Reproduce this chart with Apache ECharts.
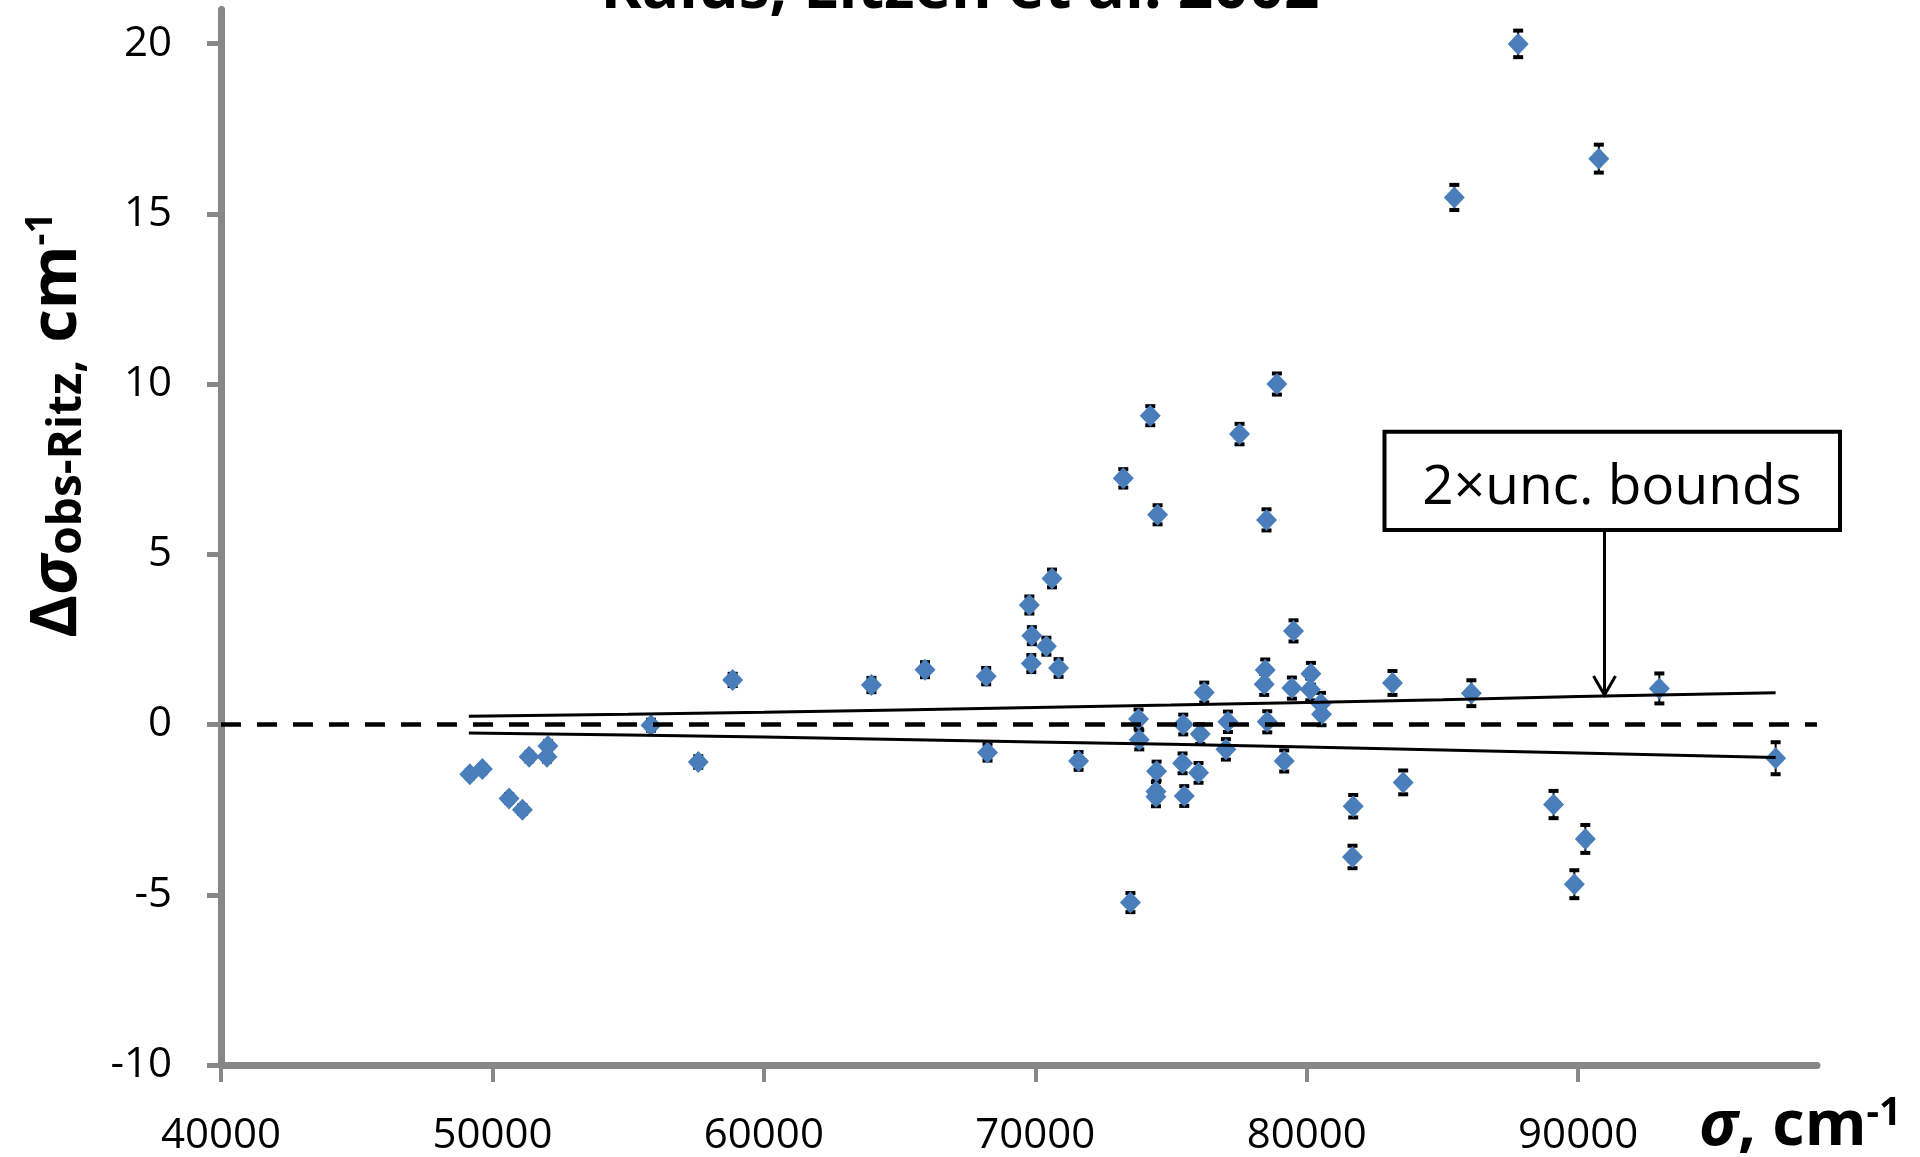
<!DOCTYPE html>
<html><head><meta charset="utf-8">
<script src="https://cdn.jsdelivr.net/npm/echarts@6/dist/echarts.min.js"></script>
<style>html,body{margin:0;padding:0;background:#fff}#c{width:1920px;height:1157px}</style>
</head><body><div id="c"></div>
<script>
// ---- data ----
const sigma = [49168,49628,50612,51105,51352,52011,52044,55842,57584,58851,
  63963,65937,68191,68240,69782,69873,69853,70409,70615,70858,
  71595,73242,73505,73805,73831,74236,74469,74445,74445,74506,
  75451,75426,75488,76077,76015,76225,77023,77097,77525,78471,
  78434,78519,78545,78902,79171,79514,79455,80155,80129,80523,
  80545,81713,81687,83160,83554,85438,86066,87790,89094,89860,
  90265,90762,92991,97276];
const delta = [-1.46,-1.31,-2.17,-2.50,-0.95,-0.95,-0.63,-0.02,-1.10,1.31,
  1.16,1.61,1.42,-0.82,3.51,2.61,1.79,2.30,4.29,1.66,
  -1.07,7.23,-5.23,0.16,-0.45,9.07,-1.37,-1.97,-2.12,6.16,
  0.00,-1.14,-2.10,-0.28,-1.42,0.94,-0.73,0.08,8.53,1.60,
  1.18,6.01,0.08,10.00,-1.07,2.75,1.07,1.49,1.03,0.61,
  0.30,-2.40,-3.89,1.22,-1.70,15.48,0.92,19.99,-2.35,-4.69,
  -3.36,16.62,1.06,-0.99];
const unc = [0.12,0.12,0.13,0.13,0.13,0.14,0.14,0.16,0.17,0.18,
  0.21,0.22,0.24,0.24,0.25,0.25,0.25,0.25,0.26,0.26,
  0.26,0.27,0.28,0.28,0.28,0.28,0.28,0.28,0.28,0.28,
  0.29,0.29,0.29,0.29,0.29,0.29,0.30,0.30,0.30,0.31,
  0.31,0.31,0.31,0.31,0.31,0.31,0.31,0.32,0.32,0.32,
  0.32,0.33,0.33,0.35,0.35,0.37,0.38,0.39,0.40,0.41,
  0.41,0.41,0.44,0.47];
const boundSigma = [49131,55000,60000,65000,70000,75000,80000,85000,90000,97276];
const boundUpper = [0.24,0.30,0.36,0.43,0.50,0.57,0.65,0.73,0.82,0.93];
const boundLower = [-0.25,-0.31,-0.37,-0.44,-0.51,-0.58,-0.66,-0.75,-0.84,-0.97];
const xTicks = [40000,50000,60000,70000,80000,90000];
const yTicks = [-10,-5,0,5,10,15,20];
const titleText = 'Kalus, Litzén et al. 2002';
const noteText = '2×unc. bounds';

// ---- chart ----
const FONT = '"Open Sans", "Noto Sans", sans-serif';
const chart = echarts.init(document.getElementById('c'), null, {renderer: 'canvas'});
const errData = sigma.map((s, i) => [s, delta[i] - unc[i], delta[i] + unc[i]]);
const ptData = sigma.map((s, i) => [s, delta[i]]);
const up = boundSigma.map((s, i) => [s, boundUpper[i]]);
const lo = boundSigma.map((s, i) => [s, boundLower[i]]);

const option = {
  animation: false,
  backgroundColor: '#fff',
  grid: {left: 221, right: 103, top: 9.5, bottom: 92, containLabel: false},
  xAxis: {
    type: 'value', min: 40000, max: 98800,
    axisLine: {show: true, onZero: false, lineStyle: {color: '#878787', width: 7, cap: 'round'}},
    axisTick: {show: true, customValues: xTicks, length: 17, lineStyle: {color: '#878787', width: 4}},
    axisLabel: {customValues: xTicks, fontSize: 42, fontFamily: FONT, color: '#000', margin: 50,
      formatter: function (v) { return String(v); }},
    splitLine: {show: false}
  },
  yAxis: {
    type: 'value', min: -10, max: 21,
    axisLine: {show: true, onZero: false, lineStyle: {color: '#878787', width: 7}},
    axisTick: {show: true, customValues: yTicks, length: 14, lineStyle: {color: '#878787', width: 5}},
    axisLabel: {customValues: yTicks, fontSize: 42, fontFamily: FONT, color: '#000', margin: 49,
      formatter: function (v) { return String(v); }},
    splitLine: {show: false}
  },
  series: [
    {
      type: 'custom', name: 'err', z: 2, data: errData,
      encode: {x: 0, y: [1, 2]},
      renderItem: function (params, api) {
        const x = api.value(0);
        const pL = api.coord([x, api.value(1)]);
        const pH = api.coord([x, api.value(2)]);
        const cw = 5;
        return {type: 'group', children: [
          {type: 'line', shape: {x1: pL[0], y1: pL[1], x2: pH[0], y2: pH[1]}, style: {stroke: '#000', lineWidth: 2}},
          {type: 'line', shape: {x1: pL[0] - cw, y1: pL[1], x2: pL[0] + cw, y2: pL[1]}, style: {stroke: '#000', lineWidth: 4}},
          {type: 'line', shape: {x1: pH[0] - cw, y1: pH[1], x2: pH[0] + cw, y2: pH[1]}, style: {stroke: '#000', lineWidth: 4}}
        ]};
      }
    },
    {
      type: 'scatter', name: 'pts', z: 3, data: ptData,
      symbol: 'diamond', symbolSize: [21, 22],
      itemStyle: {color: '#4A7EBB', opacity: 1}
    },
    {
      type: 'line', name: 'upper', z: 4, data: up, symbol: 'none', smooth: false,
      lineStyle: {color: '#000', width: 3}
    },
    {
      type: 'line', name: 'lower', z: 4, data: lo, symbol: 'none', smooth: false,
      lineStyle: {color: '#000', width: 3},
      markLine: {
        silent: true, symbol: 'none', z: 5,
        label: {show: false},
        lineStyle: {color: '#000', width: 4.5, type: [20, 16]},
        data: [{yAxis: 0}]
      }
    }
  ],
  graphic: [
    {type: 'text', x: 960, y: -10, z: 10,
      style: {text: titleText, font: 'bold 62px ' + FONT, fill: '#000', align: 'center', verticalAlign: 'middle'}},
    {type: 'text', x: 57, y: 425, rotation: Math.PI / 2, z: 10,
      style: {
        text: '{m|Δ}{g|σ}{s|obs-Ritz,}{m| cm}{p|-1}',
        align: 'center', verticalAlign: 'middle', fill: '#000',
        rich: {
          m: {fontFamily: FONT, fontWeight: 'bold', fontSize: 65, lineHeight: 68, verticalAlign: 'middle'},
          g: {fontFamily: FONT, fontWeight: 'bold', fontStyle: 'italic', fontSize: 65, lineHeight: 68, verticalAlign: 'middle'},
          s: {fontFamily: FONT, fontWeight: 'bold', fontSize: 46, lineHeight: 36, verticalAlign: 'bottom'},
          p: {fontFamily: FONT, fontWeight: 'bold', fontSize: 37, lineHeight: 26, verticalAlign: 'top'}
        }
      }},
    {type: 'text', x: 1699, y: 1127, z: 10,
      style: {
        text: '{g|σ}{m|, cm}{p|-1}',
        align: 'left', verticalAlign: 'middle', fill: '#000',
        rich: {
          m: {fontFamily: FONT, fontWeight: 'bold', fontSize: 63, lineHeight: 66, verticalAlign: 'middle'},
          g: {fontFamily: FONT, fontWeight: 'bold', fontStyle: 'italic', fontSize: 63, lineHeight: 66, verticalAlign: 'middle'},
          p: {fontFamily: FONT, fontWeight: 'bold', fontSize: 39, lineHeight: 22, verticalAlign: 'top'}
        }
      }},
    {type: 'rect', z: 10, shape: {x: 1384.5, y: 431.7, width: 455.5, height: 98.3},
      style: {fill: '#fff', stroke: '#000', lineWidth: 4}},
    {type: 'text', x: 1612, y: 488, z: 11,
      style: {text: noteText, font: '55px ' + FONT, fill: '#000', align: 'center', verticalAlign: 'middle'}},
    {type: 'line', z: 10, shape: {x1: 1604.5, y1: 532, x2: 1604.5, y2: 694}, style: {stroke: '#000', lineWidth: 3}},
    {type: 'polyline', z: 10, shape: {points: [[1593.5, 676], [1604.5, 695], [1615.5, 676]]}, style: {stroke: '#000', lineWidth: 3, fill: null}}
  ]
};
chart.setOption(option);
</script>
</body></html>
